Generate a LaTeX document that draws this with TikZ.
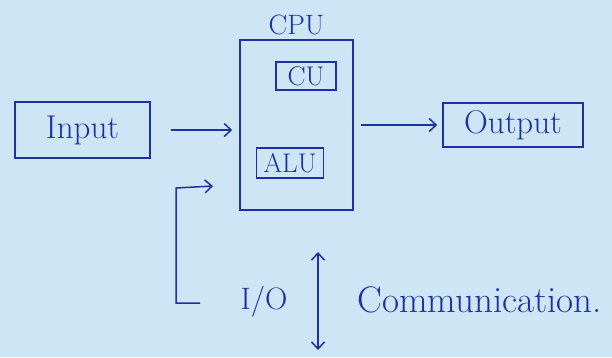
\documentclass[tikz,border=0pt]{standalone}
\usepackage{tikz}
\usetikzlibrary{arrows.meta,positioning}
\definecolor{paper}{HTML}{CDE5F4}
\definecolor{ink}{HTML}{1C32A2}

\begin{document}
\begin{tikzpicture}[x=1pt, y=-1pt,
    unit/.style={draw=ink, line width=1.5pt, text=ink, inner sep=0pt,
                 font=\fontsize{33}{35}\selectfont},
    part/.style={draw=ink, line width=1.5pt, text=ink, inner sep=0pt,
                 font=\fontsize{27}{29}\selectfont},
    cpubox/.style={draw=ink, line width=1.5pt, minimum width=113pt,
                   minimum height=170pt, inner sep=0pt},
    flow/.style={draw=ink, line width=1.5pt,
                 -{Straight Barb[length=7pt, width=13pt, line width=1.5pt]}},
    bothway/.style={draw=ink, line width=1.5pt,
                 {Straight Barb[length=7pt, width=13pt, line width=1.5pt]}-{Straight Barb[length=7pt, width=13pt, line width=1.5pt]}},
    lbl/.style={text=ink, font=\fontsize{28}{30}\selectfont},
]

% === Paper ===
\fill[paper] (0,0) rectangle (612,357);
\useasboundingbox (0,0) rectangle (612,357);

% === Processor with its parts ===
\node[cpubox] (cpu) at (296.5,125) {};
\node[lbl, above=1pt of cpu] (cpulbl) {CPU};
\node[part, minimum width=60pt, minimum height=28pt] (cu) at (306,76) {CU};
\node[part, minimum width=67pt, minimum height=30pt] (alu) at (290,163) {ALU};

% === Input and output ===
\node[unit, minimum width=135pt, minimum height=56pt] (in) at (82.5,130) {Input};
\node[unit, minimum width=140pt, minimum height=44pt] (out) at (513,125) {Output};

% === Data flow ===
\draw[flow, shorten <=20pt, shorten >=7pt] (in.east) -- (in.east -| cpu.west);
\draw[flow, shorten <=7pt, shorten >=5pt] (cpu.east) -- (out.west);

% === Feedback loop ===
\coordinate (fbstart) at (200,303);
\coordinate (fbcorner) at (176,188);
\coordinate (fbend) at (213,186);
\draw[flow] (fbstart) -| (fbcorner) -- (fbend);

% === I/O communication ===
\node[lbl, font=\fontsize{31}{33}\selectfont] (io) at (264,302) {I/O};
\coordinate (iotop) at (318,252);
\coordinate (iobot) at (318,350);
\draw[bothway] (iobot) -- (iotop);
\node[lbl, anchor=west, font=\fontsize{37}{39}\selectfont] (comm) at (354,300) {Communication.};

\end{tikzpicture}
\end{document}
